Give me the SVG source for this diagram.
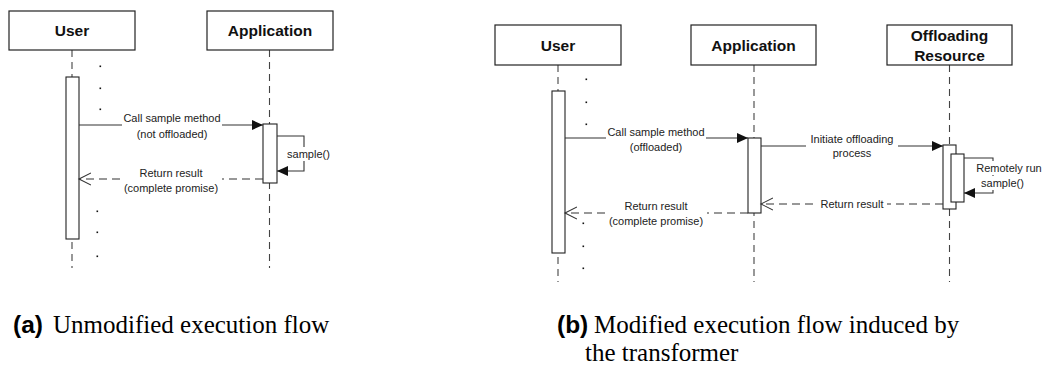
<svg xmlns="http://www.w3.org/2000/svg" width="1045" height="370" viewBox="0 0 1045 370">
  <defs>
    <style>
      .box { fill: #fff; stroke: #222; stroke-width: 1.2; }
      .head { font-family: "Liberation Sans", Arial, sans-serif; font-weight: bold; font-size: 15.5px; fill: #111; text-anchor: middle; }
      .life { stroke: #444; stroke-width: 1.1; stroke-dasharray: 7 5; fill: none; }
      .act { fill: #fff; stroke: #222; stroke-width: 1.1; }
      .msg { stroke: #333; stroke-width: 1.1; fill: none; }
      .ret { stroke: #333; stroke-width: 1.1; fill: none; stroke-dasharray: 8 5; }
      .lbl { font-family: "Liberation Sans", Arial, sans-serif; font-size: 11px; fill: #222; text-anchor: middle; }
      .bg { fill: #fff; }
      .dot { fill: #111; }
      .capb { font-family: "Liberation Sans", Arial, sans-serif; font-weight: bold; font-size: 24.5px; fill: #000; }
      .capt { font-family: "Liberation Serif", "Times New Roman", serif; font-size: 25px; fill: #000; }
    </style>
    <marker id="filled" markerUnits="userSpaceOnUse" markerWidth="12" markerHeight="11" refX="11" refY="5" orient="auto">
      <path d="M0,0 L11,5 L0,10 Z" fill="#111"/>
    </marker>
    <marker id="open" markerUnits="userSpaceOnUse" markerWidth="14" markerHeight="14" refX="12" refY="6.5" orient="auto">
      <path d="M0,0.5 L12,6.5 L0,12.5" fill="none" stroke="#333" stroke-width="1.1" stroke-dasharray="none"/>
    </marker>
  </defs>
  <rect width="1045" height="370" fill="#fff"/>

  <!-- (a) unmodified flow -->
  <g id="a-lifelines">
    <line class="life" x1="72" y1="50" x2="72" y2="268"/>
    <line class="life" x1="269.5" y1="50" x2="269.5" y2="268"/>
  </g>
  <g id="a-user">
    <rect class="box" x="9" y="11" width="126" height="39"/>
    <text class="head" x="72" y="36">User</text>
    <rect class="act" x="66" y="77" width="13" height="162"/>
  </g>
  <g id="a-application">
    <rect class="box" x="207" y="11" width="126" height="39"/>
    <text class="head" x="270" y="36">Application</text>
    <rect class="act" x="263" y="124" width="14" height="59"/>
  </g>
  <g id="a-dots">
    <rect class="dot" x="99.5" y="65.5" width="1.6" height="1.6"/>
    <rect class="dot" x="99.5" y="87.5" width="1.6" height="1.6"/>
    <rect class="dot" x="99.5" y="108.5" width="1.6" height="1.6"/>
    <rect class="dot" x="96.5" y="210.5" width="1.6" height="1.6"/>
    <rect class="dot" x="96.5" y="231.5" width="1.6" height="1.6"/>
    <rect class="dot" x="96.5" y="255.5" width="1.6" height="1.6"/>
  </g>
  <g id="a-connectors">
    <path class="msg" d="M79,125 H263" marker-end="url(#filled)"/>
    <rect class="bg" x="122" y="111" width="100" height="29"/>
    <text class="lbl" x="172" y="122">Call sample method</text>
    <text class="lbl" x="172" y="138">(not offloaded)</text>

    <path class="msg" d="M277,136 H304 V171 H277" marker-end="url(#filled)"/>
    <rect class="bg" x="286" y="147" width="46" height="14"/>
    <text class="lbl" x="308.5" y="158">sample()</text>

    <path class="ret" d="M263,179 H79" marker-end="url(#open)"/>
    <rect class="bg" x="121" y="166" width="101" height="29"/>
    <text class="lbl" x="171" y="177">Return result</text>
    <text class="lbl" x="171" y="192">(complete promise)</text>
  </g>

  <!-- (b) flow with offloading -->
  <g id="b-lifelines">
    <line class="life" x1="558" y1="65" x2="558" y2="282"/>
    <line class="life" x1="754" y1="65" x2="754" y2="282"/>
    <line class="life" x1="949.5" y1="65" x2="949.5" y2="282"/>
  </g>
  <g id="b-user">
    <rect class="box" x="495" y="25" width="126" height="40"/>
    <text class="head" x="558" y="51">User</text>
    <rect class="act" x="552" y="91" width="13" height="162"/>
  </g>
  <g id="b-application">
    <rect class="box" x="691" y="25" width="125" height="40"/>
    <text class="head" x="753.5" y="51">Application</text>
    <rect class="act" x="748" y="138" width="13" height="75"/>
  </g>
  <g id="b-resource">
    <rect class="box" x="887" y="25" width="125" height="40"/>
    <text class="head" x="949.5" y="41">Offloading</text>
    <text class="head" x="949.5" y="61">Resource</text>
    <rect class="act" x="943" y="145" width="13" height="64"/>
    <rect class="act" x="951" y="154" width="13" height="48"/>
  </g>
  <g id="b-dots">
    <rect class="dot" x="585.5" y="78.5" width="1.6" height="1.6"/>
    <rect class="dot" x="585.5" y="101.5" width="1.6" height="1.6"/>
    <rect class="dot" x="585.5" y="123.5" width="1.6" height="1.6"/>
    <rect class="dot" x="582.5" y="222.5" width="1.6" height="1.6"/>
    <rect class="dot" x="582.5" y="245.5" width="1.6" height="1.6"/>
    <rect class="dot" x="582.5" y="267.5" width="1.6" height="1.6"/>
  </g>
  <g id="b-connectors">
    <path class="msg" d="M565,138 H748" marker-end="url(#filled)"/>
    <rect class="bg" x="606" y="125" width="100" height="28"/>
    <text class="lbl" x="656" y="136">Call sample method</text>
    <text class="lbl" x="656" y="151">(offloaded)</text>

    <path class="msg" d="M761,146 H943" marker-end="url(#filled)"/>
    <rect class="bg" x="806" y="132" width="92" height="27"/>
    <text class="lbl" x="852" y="143">Initiate offloading</text>
    <text class="lbl" x="852" y="157">process</text>

    <path class="msg" d="M964,158 H993 V193 H964" marker-end="url(#filled)"/>
    <rect class="bg" x="975" y="161" width="69" height="14"/>
    <rect class="bg" x="983" y="176" width="40" height="14"/>
    <text class="lbl" x="1009" y="172">Remotely run</text>
    <text class="lbl" x="1002.5" y="187">sample()</text>

    <path class="ret" d="M943,204 H761" marker-end="url(#open)"/>
    <rect class="bg" x="817" y="197" width="70" height="14"/>
    <text class="lbl" x="852" y="208">Return result</text>

    <path class="ret" d="M748,213 H565" marker-end="url(#open)"/>
    <rect class="bg" x="606" y="199" width="101" height="29"/>
    <text class="lbl" x="656" y="210">Return result</text>
    <text class="lbl" x="656" y="225">(complete promise)</text>
  </g>

  <!-- sub-figure captions -->
  <g id="captions">
    <text class="capb" x="13" y="333">(a)</text>
    <text class="capt" x="53" y="333">Unmodified execution flow</text>
    <text class="capb" x="557" y="333">(b)</text>
    <text class="capt" x="594" y="333">Modified execution flow induced by</text>
    <text class="capt" x="585" y="361">the transformer</text>
  </g>
</svg>
